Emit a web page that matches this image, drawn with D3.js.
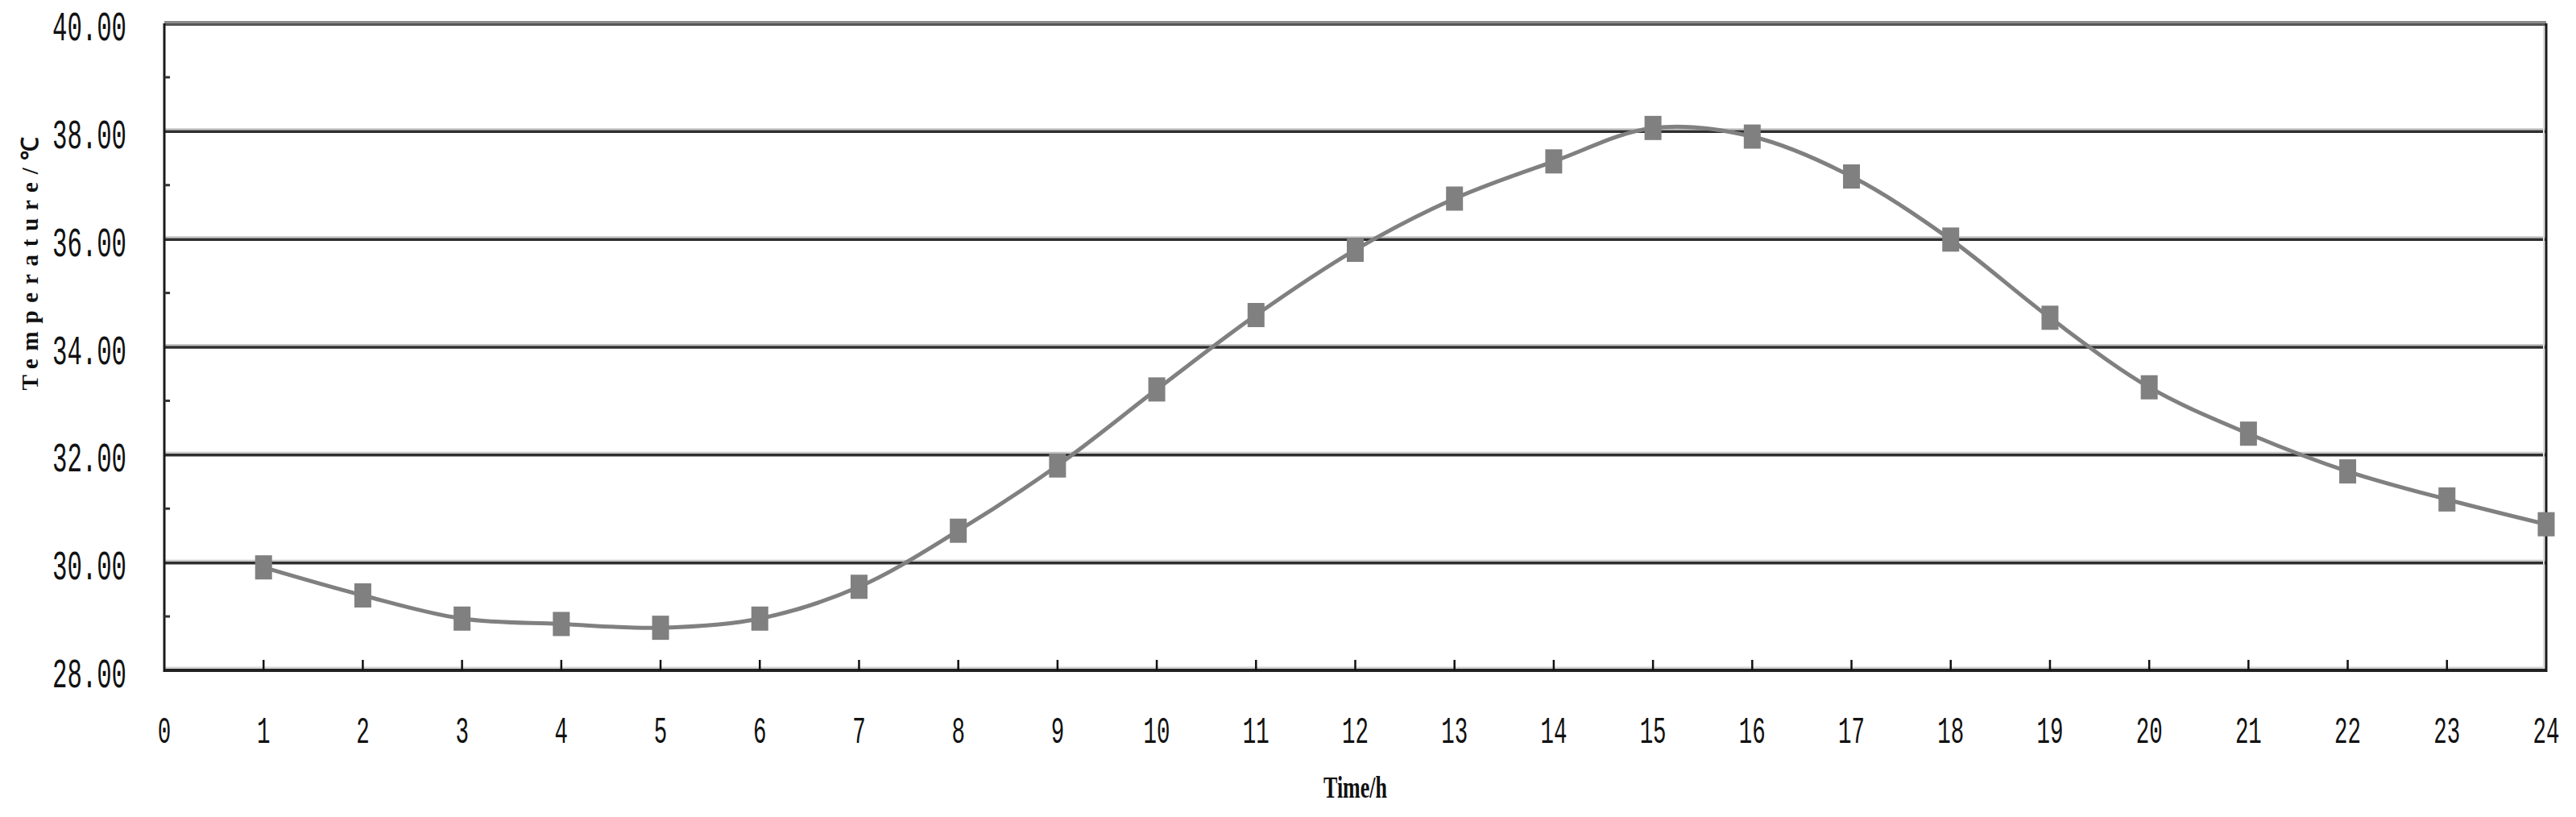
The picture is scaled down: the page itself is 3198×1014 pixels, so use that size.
<!DOCTYPE html>
<html><head><meta charset="utf-8">
<script src="https://cdn.jsdelivr.net/npm/d3@7"></script>
<style>html,body{margin:0;padding:0;background:#fff;} svg{display:block;background:#fff}</style>
</head><body><svg id="c" width="3198" height="1014"></svg>
<script>
const hours = [1,2,3,4,5,6,7,8,9,10,11,12,13,14,15,16,17,18,19,20,21,22,23,24];
const temps = [29.91,29.39,28.96,28.86,28.79,28.96,29.55,30.59,31.80,33.21,34.59,35.80,36.75,37.44,38.06,37.90,37.16,35.99,34.54,33.25,32.39,31.69,31.17,30.71];
const yTicks = [28,30,32,34,36,38,40];
const yTickLabels = ["28.00","30.00","32.00","34.00","36.00","38.00","40.00"];
const yMinorTicks = [29,31,33,35,37,39];
const xTicks = [0,1,2,3,4,5,6,7,8,9,10,11,12,13,14,15,16,17,18,19,20,21,22,23,24];
const xTickLabels = ["0","1","2","3","4","5","6","7","8","9","10","11","12","13","14","15","16","17","18","19","20","21","22","23","24"];
const xTitle = "Time/h";
const yTitle = "Temperature/\u2103";

const svg = d3.select("#c");
const L = 204, R = 3161, T = 29, B = 832;
const x = d3.scaleLinear().domain([0,24]).range([L,R]);
const y = d3.scaleLinear().domain([28,40]).range([B,T]);

// gridlines
const grid = svg.append("g");
yTicks.filter(v => v > 28 && v < 40).forEach(v => {
  grid.append("line").attr("x1",L).attr("x2",R).attr("y1",y(v)-2.5).attr("y2",y(v)-2.5)
    .attr("stroke","#c4c4c4").attr("stroke-width",2);
  grid.append("line").attr("x1",L).attr("x2",R).attr("y1",y(v)+0.5).attr("y2",y(v)+0.5)
    .attr("stroke","#2e2e2e").attr("stroke-width",3.5);
});
// top border (40)
grid.append("line").attr("x1",L).attr("x2",R).attr("y1",y(40)-1).attr("y2",y(40)-1)
  .attr("stroke","#8a8a8a").attr("stroke-width",4);
grid.append("line").attr("x1",L).attr("x2",R).attr("y1",y(40)+1.5).attr("y2",y(40)+1.5)
  .attr("stroke","#555",).attr("stroke-width",3);

// bottom axis
svg.append("line").attr("x1",L).attr("x2",R).attr("y1",y(28)-3).attr("y2",y(28)-3)
  .attr("stroke","#d4d4d4").attr("stroke-width",3);
svg.append("line").attr("x1",L).attr("x2",R+1).attr("y1",y(28)).attr("y2",y(28))
  .attr("stroke","#222").attr("stroke-width",4);
// left & right
svg.append("line").attr("x1",L).attr("x2",L).attr("y1",y(40)).attr("y2",y(28)+2)
  .attr("stroke","#1a1a1a").attr("stroke-width",3);
svg.append("line").attr("x1",R).attr("x2",R).attr("y1",y(40)).attr("y2",y(28)+2)
  .attr("stroke","#1a1a1a").attr("stroke-width",3);
svg.append("line").attr("x1",R-3).attr("x2",R-3).attr("y1",y(40)+3).attr("y2",y(28)-2)
  .attr("stroke","#dcdcdc").attr("stroke-width",2);

// minor y ticks
yMinorTicks.forEach(v => {
  svg.append("line").attr("x1",L).attr("x2",L+7).attr("y1",y(v)).attr("y2",y(v))
    .attr("stroke","#333").attr("stroke-width",3);
});
// x ticks (inside)
xTicks.filter(v => v > 0 && v < 24).forEach(v => {
  svg.append("line").attr("x1",x(v)).attr("x2",x(v)).attr("y1",y(28)).attr("y2",y(28)-13)
    .attr("stroke","#111").attr("stroke-width",2.5);
});

// y tick labels
yTicks.forEach((v,i) => {
  svg.append("text").attr("x",157).attr("y",y(v)+21)
    .attr("text-anchor","end")
    .attr("font-family","Liberation Mono, monospace").attr("font-size",52)
    .attr("textLength",92).attr("lengthAdjust","spacingAndGlyphs")
    .attr("fill","#111").text(yTickLabels[i]);
});
// x tick labels
xTicks.forEach((v,i) => {
  const s = xTickLabels[i];
  svg.append("text").attr("x",x(v)).attr("y",922)
    .attr("text-anchor","middle")
    .attr("font-family","Liberation Mono, monospace").attr("font-size",46)
    .attr("textLength",16.5*s.length).attr("lengthAdjust","spacingAndGlyphs")
    .attr("fill","#111").text(s);
});

// axis titles
svg.append("text").attr("x",(L+R)/2).attr("y",990).attr("text-anchor","middle")
  .attr("font-family","Liberation Serif, serif").attr("font-weight","bold").attr("font-size",38)
  .attr("textLength",79).attr("lengthAdjust","spacingAndGlyphs")
  .attr("fill","#111").text(xTitle);
svg.append("text").attr("transform","translate(47,327) rotate(-90)")
  .attr("text-anchor","middle")
  .attr("font-family","Liberation Serif, serif").attr("font-weight","bold").attr("font-size",29)
  .attr("textLength",315).attr("lengthAdjust","spacing")
  .attr("fill","#111").text(yTitle);

// series line
const data = hours.map((h,i) => ({h, t: temps[i]}));
const line = d3.line().x(d => x(d.h)).y(d => y(d.t)).curve(d3.curveCatmullRom.alpha(0.5));
svg.append("path").datum(data).attr("d",line)
  .attr("fill","none").attr("stroke","#808080").attr("stroke-width",5);
// markers
svg.append("g").selectAll("rect").data(data).join("rect")
  .attr("x",d => x(d.h)-10.5).attr("y",d => y(d.t)-15)
  .attr("width",21).attr("height",30).attr("fill","#808080");
</script></body></html>
